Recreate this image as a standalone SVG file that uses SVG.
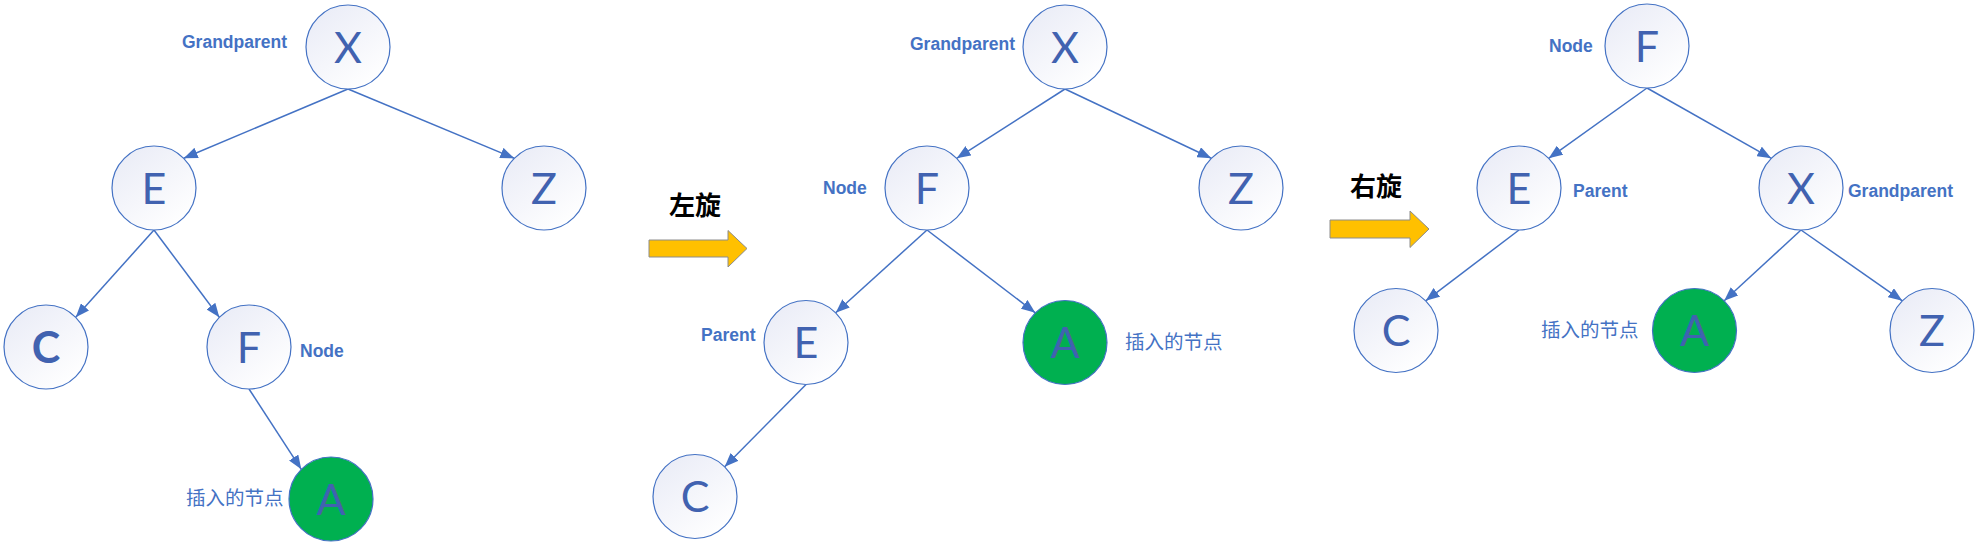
<svg xmlns="http://www.w3.org/2000/svg" width="1978" height="553" viewBox="0 0 1978 553">
<defs>
<linearGradient id="nodeFill" x1="0.15" y1="0.1" x2="0.8" y2="0.95">
<stop offset="0" stop-color="#EBEDF7"/>
<stop offset="1" stop-color="#FFFFFF"/>
</linearGradient>
<marker id="arr" markerUnits="userSpaceOnUse" markerWidth="15" markerHeight="11" refX="14" refY="5.5" orient="auto">
<path d="M0,0 L14,5.5 L0,11 z" fill="#4472C4"/>
</marker>
<style>
.n{fill:url(#nodeFill);stroke:#4472C4;stroke-width:1.2}
.g{fill:#00B050;stroke:#4472C4;stroke-width:1.2}
.L{font-family:Lato,"Open Sans","Liberation Sans",sans-serif;font-weight:400;font-size:43px;fill:#4162B0;text-anchor:middle}
.lb{font-family:"Liberation Sans","Noto Sans",sans-serif;font-weight:bold;font-size:17.5px;fill:#4472C4}
.cn{font-family:"Noto Sans CJK SC","Noto Sans",sans-serif;font-size:19.5px;fill:#4472C4}
.rot{font-family:"Noto Sans CJK SC",sans-serif;font-weight:bold;font-size:26px;fill:#000000}
.e{stroke:#4472C4;stroke-width:1.5;fill:none;marker-end:url(#arr)}
.ya{fill:#FFC000;stroke:#8C8C8C;stroke-width:1}
</style>
</defs>
<rect width="1978" height="553" fill="#FFFFFF"/>

<g id="connectors">
<!-- tree 1 -->
<line class="e" x1="348" y1="89" x2="183.7" y2="158.3"/>
<line class="e" x1="348" y1="89" x2="514.3" y2="158.3"/>
<line class="e" x1="154" y1="230" x2="75.7" y2="317.3"/>
<line class="e" x1="154" y1="230" x2="219.3" y2="317.3"/>
<line class="e" x1="249" y1="389" x2="301.3" y2="469.3"/>
<!-- tree 2 -->
<line class="e" x1="1065" y1="89" x2="956.7" y2="158.3"/>
<line class="e" x1="1065" y1="89" x2="1211.3" y2="158.3"/>
<line class="e" x1="927" y1="230" x2="835.7" y2="312.8"/>
<line class="e" x1="927" y1="230" x2="1035.3" y2="312.8"/>
<line class="e" x1="806" y1="384.5" x2="724.7" y2="466.8"/>
<!-- tree 3 -->
<line class="e" x1="1647" y1="88" x2="1548.7" y2="158.3"/>
<line class="e" x1="1647" y1="88" x2="1771.3" y2="158.3"/>
<line class="e" x1="1519" y1="230" x2="1425.7" y2="300.8"/>
<line class="e" x1="1801" y1="230" x2="1724.2" y2="300.8"/>
<line class="e" x1="1801" y1="230" x2="1902.3" y2="300.8"/>
</g>

<!-- Tree 1 -->
<g id="t1-X"><circle class="n" cx="348" cy="47" r="42"/><text class="L" x="348" y="62.5">X</text></g>
<text class="lb" x="182" y="48">Grandparent</text>
<g id="t1-E"><circle class="n" cx="154" cy="188" r="42"/><text class="L" x="154" y="203.5">E</text></g>
<g id="t1-Z"><circle class="n" cx="544" cy="188" r="42"/><text class="L" x="544" y="203.5">Z</text></g>
<g id="t1-C"><circle class="n" cx="46" cy="347" r="42"/><text class="L" x="46" y="362.5" style="font-weight:bold">C</text></g>
<g id="t1-F"><circle class="n" cx="249" cy="347" r="42"/><text class="L" x="249" y="362.5">F</text></g>
<text class="lb" x="300" y="357">Node</text>
<g id="t1-A"><circle class="g" cx="331" cy="499" r="42"/><text class="L" x="331" y="514.5">A</text></g>
<text class="cn" x="186" y="505">插入的节点</text>

<!-- Rotation arrow 1 -->
<g id="rot-left">
<text class="rot" x="669" y="215">左旋</text>
<path class="ya" d="M649,240 L728,240 L728,230.5 L747,248.5 L728,267 L728,257 L649,257 z"/>
</g>

<!-- Tree 2 -->
<g id="t2-X"><circle class="n" cx="1065" cy="47" r="42"/><text class="L" x="1065" y="62.5">X</text></g>
<text class="lb" x="910" y="50">Grandparent</text>
<g id="t2-F"><circle class="n" cx="927" cy="188" r="42"/><text class="L" x="927" y="203.5">F</text></g>
<text class="lb" x="823" y="194">Node</text>
<g id="t2-Z"><circle class="n" cx="1241" cy="188" r="42"/><text class="L" x="1241" y="203.5">Z</text></g>
<g id="t2-E"><circle class="n" cx="806" cy="342.5" r="42"/><text class="L" x="806" y="358">E</text></g>
<text class="lb" x="701" y="341">Parent</text>
<g id="t2-A"><circle class="g" cx="1065" cy="342.5" r="42"/><text class="L" x="1065" y="358">A</text></g>
<text class="cn" x="1125" y="349">插入的节点</text>
<g id="t2-C"><circle class="n" cx="695" cy="496.5" r="42"/><text class="L" x="695" y="512">C</text></g>

<!-- Rotation arrow 2 -->
<g id="rot-right">
<text class="rot" x="1350" y="196">右旋</text>
<path class="ya" d="M1330,220 L1410,220 L1410,211 L1429,229 L1410,247.5 L1410,238 L1330,238 z"/>
</g>

<!-- Tree 3 -->
<g id="t3-F"><circle class="n" cx="1647" cy="46" r="42"/><text class="L" x="1647" y="61.5">F</text></g>
<text class="lb" x="1549" y="52">Node</text>
<g id="t3-E"><circle class="n" cx="1519" cy="188" r="42"/><text class="L" x="1519" y="203.5">E</text></g>
<text class="lb" x="1573" y="197">Parent</text>
<g id="t3-X"><circle class="n" cx="1801" cy="188" r="42"/><text class="L" x="1801" y="203.5">X</text></g>
<text class="lb" x="1848" y="197">Grandparent</text>
<g id="t3-C"><circle class="n" cx="1396" cy="330.5" r="42"/><text class="L" x="1396" y="346">C</text></g>
<g id="t3-A"><circle class="g" cx="1694.5" cy="330.5" r="42"/><text class="L" x="1694.5" y="346">A</text></g>
<text class="cn" x="1541" y="337">插入的节点</text>
<g id="t3-Z"><circle class="n" cx="1932" cy="330.5" r="42"/><text class="L" x="1932" y="346">Z</text></g>
</svg>
